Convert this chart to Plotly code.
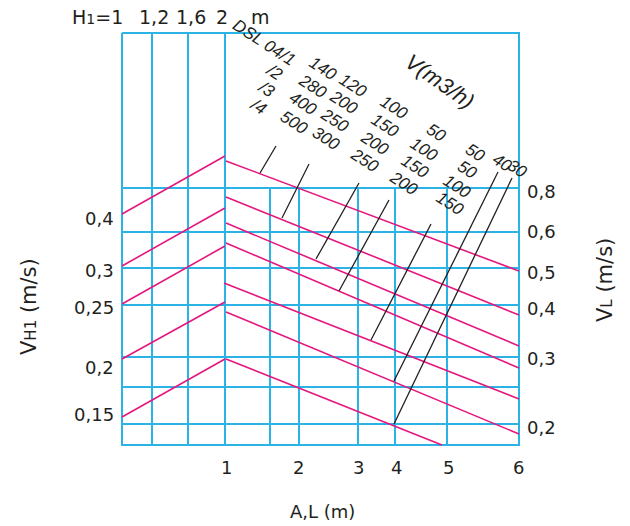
import plotly.graph_objects as go

# ---------------- nomogram scale (chart units follow the printed sheet) -------------
# bottom scale A,L (m)
AL_labels = ["1", "2", "3", "4", "5", "6"]
AL_pos = [226, 298, 358, 396, 448, 518]
# top scale H1 (m)
H1_labels = ["1,2", "1,6", "2"]
H1_pos = [154, 191, 222]
# right scale VL (m/s)
VL_labels = ["0,8", "0,6", "0,5", "0,4", "0,3", "0,2"]
VL_pos = [191, 231, 272, 308, 358, 427]
# left scale VH1 (m/s)
VH1_labels = ["0,4", "0,3", "0,25", "0,2", "0,15"]
VH1_pos = [218, 270, 307, 367, 414]

# grid
grid_h = [188, 232, 268, 305, 357, 387, 424]          # full width
grid_v_full = [152, 188, 225]                          # full height
grid_v_low = [270, 299, 358, 395, 447]                 # below the 0,8 line
frame_x = [122, 519]
frame_y = [33, 445]

# magenta VH1 lines (H1 = 1 -> H1 = 2)
up_x0 = [122, 122, 122, 122, 122]
up_y0 = [214, 266, 304, 359, 417]
up_x1 = [225, 225, 225, 225, 225]
up_y1 = [156, 208, 246, 302, 359]

# magenta VL lines (decreasing with A,L)
dn_x0 = [226, 226, 226, 226, 224, 226, 226]
dn_y0 = [161, 197, 223, 243, 283, 312, 359]
dn_x1 = [519, 519, 519, 519, 519, 519, 442]
dn_y1 = [271, 315, 346, 368, 399, 434, 445]

# black flow-rate lines V (m3/h)
bk_x0 = [276, 309, 359, 389, 431, 498, 512]
bk_y0 = [146, 164, 183, 200, 224, 172, 178]
bk_x1 = [260, 282, 316, 339, 371, 394, 394]
bk_y1 = [173, 218, 259, 291, 340, 381, 424]

# flow labels for DSL 04/1, /2, /3, /4
flow_labels = [
    ["140", "280", "400", "500"],
    ["120", "200", "250", "300"],
    ["100", "150", "200", "250"],
    ["50", "100", "150", "200"],
    ["50", "50", "100", "150"],
    ["40"],
    ["30"],
]
flow_lx = [
    [323, 313, 303, 294],
    [353, 344, 335, 326],
    [394, 385, 375, 365],
    [436, 424, 415, 404],
    [475, 467, 457, 450],
    [502],
    [517],
]
flow_ly = [
    [68, 86, 103, 122],
    [85, 102, 120, 138],
    [107, 125, 143, 160],
    [132, 149, 166, 183],
    [152, 169, 186, 203],
    [162],
    [168],
]
dsl_labels = ["DSL 04/1", "/2", "/3", "/4"]
dsl_x = [264, 275, 267, 258]
dsl_y = [42, 72, 89, 106]

CYAN = "#2BB3E6"
MAG = "#E5177E"
BLK = "#231F20"
TXT = "#231F20"
FONT = "DejaVu Sans, Liberation Sans, sans-serif"
FONT_IT = "Liberation Sans, Arial, sans-serif"

W, H = 630, 526


def seg_trace(xs0, ys0, xs1, ys1, color, width):
    xs, ys = [], []
    for a, b, c, d in zip(xs0, ys0, xs1, ys1):
        xs += [a, c, None]
        ys += [b, d, None]
    return go.Scatter(x=xs, y=ys, mode="lines", line=dict(color=color, width=width),
                      hoverinfo="skip", showlegend=False)


fig = go.Figure()

# grid
gx0, gy0, gx1, gy1 = [], [], [], []
for y in grid_h:
    gx0.append(frame_x[0]); gy0.append(y); gx1.append(frame_x[1]); gy1.append(y)
for x in grid_v_full:
    gx0.append(x); gy0.append(frame_y[0]); gx1.append(x); gy1.append(frame_y[1])
for x in grid_v_low:
    gx0.append(x); gy0.append(grid_h[0]); gx1.append(x); gy1.append(frame_y[1])
fig.add_trace(seg_trace(gx0, gy0, gx1, gy1, CYAN, 2))
# frame
fig.add_trace(go.Scatter(
    x=[frame_x[0], frame_x[1], frame_x[1], frame_x[0], frame_x[0]],
    y=[frame_y[0], frame_y[0], frame_y[1], frame_y[1], frame_y[0]],
    mode="lines", line=dict(color=CYAN, width=2), hoverinfo="skip", showlegend=False))

fig.add_trace(seg_trace(up_x0, up_y0, up_x1, up_y1, MAG, 1.6))
fig.add_trace(seg_trace(dn_x0, dn_y0, dn_x1, dn_y1, MAG, 1.6))
fig.add_trace(seg_trace(bk_x0, bk_y0, bk_x1, bk_y1, BLK, 1.3))

ann = []


def text(x, y, t, size=18, xanchor="center", angle=0, italic=False, family=FONT):
    f = dict(family=family, size=size, color=TXT)
    if italic:
        f["style"] = "italic"
    ann.append(dict(x=x, y=y, xref="x", yref="y", text=t, showarrow=False,
                    xanchor=xanchor, yanchor="middle", textangle=angle, font=f))


for t, x in zip(AL_labels, AL_pos):
    text(x, 467, t)
text(322, 511, "A,L (m)")

for t, y in zip(VL_labels, VL_pos):
    text(525, y, t, xanchor="left")
for t, y in zip(VH1_labels, VH1_pos):
    text(116, y, t, xanchor="right")

text(125, 17, "H<span style='font-size:14px'>1</span>=1", size=19, xanchor="right")
for t, x in zip(H1_labels, H1_pos):
    text(x, 17, t, size=19)
text(260, 17, "m", size=19)

ann.append(dict(x=29, y=307, xref="x", yref="y", showarrow=False, textangle=-90,
                text="V<span style='font-size:15px'>H1</span> (m/s)",
                font=dict(family=FONT, size=21, color=TXT)))
ann.append(dict(x=605, y=280, xref="x", yref="y", showarrow=False, textangle=-90,
                text="V<span style='font-size:15px'>L</span> (m/s)",
                font=dict(family=FONT, size=21, color=TXT)))

for t, x, y in zip(dsl_labels, dsl_x, dsl_y):
    text(x, y, t, size=17, angle=33, italic=True, family=FONT_IT)
for grp, xs, ys in zip(flow_labels, flow_lx, flow_ly):
    for t, x, y in zip(grp, xs, ys):
        text(x, y, t, size=17, angle=33, italic=True, family=FONT_IT)
text(440, 81, "V(m3/h)", size=22, angle=35, italic=True, family=FONT_IT)

fig.update_layout(
    width=W, height=H,
    margin=dict(l=0, r=0, t=0, b=0),
    paper_bgcolor="white", plot_bgcolor="white",
    xaxis=dict(range=[0, W], visible=False, fixedrange=True),
    yaxis=dict(range=[H, 0], visible=False, fixedrange=True),
    annotations=ann,
    showlegend=False,
)

# remove the default page margin so the sheet starts at the window corner
fig.write_html("out.html", config={"displayModeBar": False},
               post_script="document.body.style.margin='0';")
